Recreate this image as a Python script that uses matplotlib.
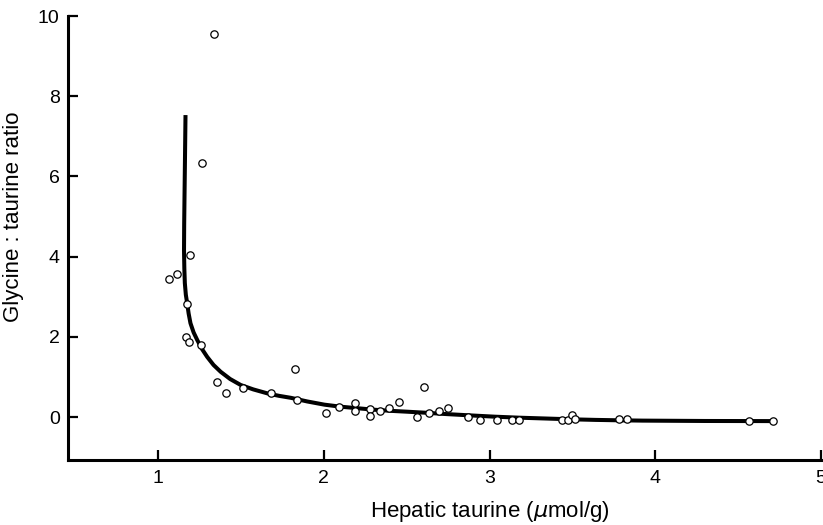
import matplotlib.pyplot as plt
import numpy as np

plt.rcParams['font.family'] = ['Liberation Sans', 'DejaVu Sans']

# Observed points (hepatic taurine, glycine:taurine ratio)
taurine = [1.335, 1.264, 1.196, 1.117, 1.069, 1.178, 1.166, 1.19, 1.257,
           1.354, 1.408, 1.511, 1.68, 1.826, 1.838, 2.014, 2.094, 2.19,
           2.191, 2.282, 2.28, 2.337, 2.391, 2.452, 2.561, 2.603, 2.633,
           2.696, 2.751, 2.872, 2.943, 3.044, 3.134, 3.175, 3.437, 3.473,
           3.498, 3.518, 3.784, 3.831, 4.568, 4.709]
ratio = [9.55, 6.33, 4.04, 3.57, 3.44, 2.82, 2.0, 1.87, 1.80,
         0.87, 0.60, 0.72, 0.60, 1.20, 0.42, 0.11, 0.24, 0.36,
         0.16, 0.19, 0.02, 0.16, 0.22, 0.37, 0.0, 0.75, 0.11,
         0.14, 0.22, 0.0, -0.07, -0.07, -0.07, -0.07, -0.07, -0.07,
         0.05, -0.06, -0.06, -0.06, -0.10, -0.10]

# Fitted curve
curve_x = [1.166, 1.163, 1.160, 1.158, 1.157, 1.159, 1.162, 1.168, 1.176,
           1.185, 1.196, 1.215, 1.237, 1.265, 1.297, 1.335, 1.378, 1.435,
           1.499, 1.575, 1.661, 1.73, 1.802, 1.9, 2.004, 2.1, 2.206, 2.3,
           2.407, 2.5, 2.609, 2.74, 2.872, 3.033, 3.18, 3.336, 3.49, 3.639,
           3.78, 3.922, 4.3, 4.709]
curve_y = [7.53, 6.5, 5.5, 4.8, 4.16, 3.7, 3.34, 3.05, 2.84,
           2.58, 2.34, 2.11, 1.92, 1.70, 1.50, 1.30, 1.13, 0.95,
           0.80, 0.69, 0.59, 0.53, 0.48, 0.39, 0.31, 0.26, 0.22, 0.185,
           0.155, 0.135, 0.11, 0.075, 0.045, 0.01, -0.015, -0.035, -0.055, -0.07,
           -0.08, -0.088, -0.097, -0.10]

fig = plt.figure(figsize=(8.23, 5.25), dpi=100)
ax = fig.add_axes([0.0826, 0.1238, 0.9150, 0.8457])

ax.plot(curve_x, curve_y, color='black', lw=2.9, solid_joinstyle='round',
        solid_capstyle='butt', zorder=2)
ax.plot(taurine, ratio, 'o', ms=5.3, mfc='white', mec='black', mew=0.9,
        zorder=3, clip_on=False)

ax.set_xlim(0.457, 5.0)
ax.set_ylim(-1.07, 10.0)
ax.set_xticks([1, 2, 3, 4, 5])
ax.set_yticks([0, 2, 4, 6, 8, 10])

for side in ['top', 'right']:
    ax.spines[side].set_visible(False)
for side in ['left', 'bottom']:
    ax.spines[side].set_linewidth(2.2)

ax.tick_params(direction='in', length=7, width=1.6, labelsize=14, color='black')
ax.tick_params(axis='x', pad=7)
ax.tick_params(axis='y', pad=6)

ax.set_xlabel(r'Hepatic taurine ($\mu$mol/g)', fontsize=16)
ax.set_ylabel('Glycine : taurine ratio', fontsize=16)
ax.xaxis.set_label_coords(0.56, -0.088)
ax.yaxis.set_label_coords(-0.058, 0.548)

fig.savefig('out.png', dpi=100)
